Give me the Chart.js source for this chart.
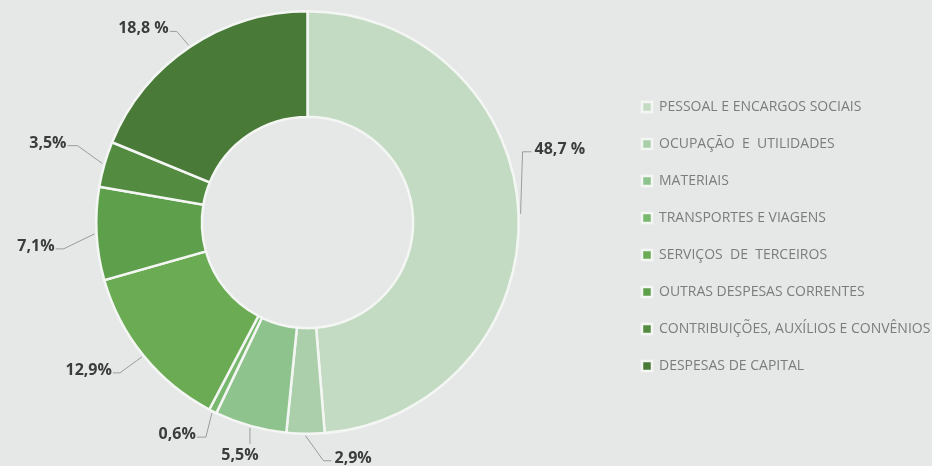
<!DOCTYPE html>
<html>
<head>
<meta charset="utf-8">
<script src="https://cdn.jsdelivr.net/npm/chart.js@4.4.0/dist/chart.umd.min.js"></script>
<style>
  html, body { margin: 0; padding: 0; background: #e6e8e7; }
  #wrap { width: 932px; height: 466px; }
</style>
</head>
<body>
<div id="wrap"><canvas id="myChart"></canvas></div>
<script>
// categories and values (percent of total)
const categories = [
    'PESSOAL E ENCARGOS SOCIAIS',
    'OCUPAÇÃO  E  UTILIDADES',
    'MATERIAIS',
    'TRANSPORTES E VIAGENS',
    'SERVIÇOS  DE  TERCEIROS',
    'OUTRAS DESPESAS CORRENTES',
    'CONTRIBUIÇÕES, AUXÍLIOS E CONVÊNIOS',
    'DESPESAS DE CAPITAL'
];
const values = [48.7, 2.9, 5.5, 0.6, 12.9, 7.1, 3.5, 18.8];
const valueLabels = ['48,7 %', '2,9%', '5,5%', '0,6%', '12,9%', '7,1%', '3,5%', '18,8 %'];

const sliceColors = [
    '#c4dbc3', '#abcfaa', '#8fc38e', '#78b86f',
    '#6aab54', '#5e9f4b', '#538b41', '#4a7a38'
];

// leader line shape per slice: bend offset from arc edge, tail length
const leaders = [
    { bend: [2, -62], tail: 9 },
    { bend: [18, 25], tail: 8 },
    { bend: [0, 16], tail: 0 },
    { bend: [-6, 24], tail: -9 },
    { bend: [-22, 16], tail: -7 },
    { bend: [-31, 15], tail: -8 },
    { bend: [-25, -18], tail: -10 },
    { bend: [-12, -14], tail: -7 }
];

const leaderPlugin = {
    id: 'leaders',
    afterDatasetsDraw(chart) {
        const ctx = chart.ctx;
        const meta = chart.getDatasetMeta(0);
        ctx.save();
        meta.data.forEach((arc, i) => {
            const mid = (arc.startAngle + arc.endAngle) / 2;
            const r = arc.outerRadius + 2;
            const x0 = arc.x + Math.cos(mid) * r;
            const y0 = arc.y + Math.sin(mid) * r;
            const lc = leaders[i];
            const x1 = x0 + lc.bend[0];
            const y1 = y0 + lc.bend[1];
            const x2 = x1 + lc.tail;
            ctx.strokeStyle = '#9a9c9a';
            ctx.lineWidth = 1;
            ctx.beginPath();
            ctx.moveTo(x0, y0);
            ctx.lineTo(x1, y1);
            ctx.lineTo(x2, y1);
            ctx.stroke();
            ctx.fillStyle = '#3b3d3c';
            ctx.font = 'bold 16px "Open Sans"';
            ctx.textBaseline = 'alphabetic';
            if (lc.tail > 0) {
                ctx.textAlign = 'left';
                ctx.fillText(valueLabels[i], x2 + 3, y1 + 2);
            } else if (lc.tail < 0) {
                ctx.textAlign = 'right';
                ctx.fillText(valueLabels[i], x2 - 1, y1 + 2);
            } else {
                ctx.textAlign = 'center';
                ctx.fillText(valueLabels[i], x1 - 10, y1 + 16);
            }
        });
        ctx.restore();
    }
};

// fix legend box width so the doughnut sits where it does in the original,
// then nudge the legend a bit right and down
const legendPlace = {
    id: 'legendPlace',
    beforeInit(chart) {
        const fit = chart.legend.fit;
        chart.legend.fit = function () {
            fit.call(this);
            this.width = 315;
        };
    },
    afterLayout(chart) {
        const lg = chart.legend;
        lg.left += 4; lg.right += 4;
        lg.top += 14; lg.bottom += 14;
    }
};

var ctx = document.getElementById('myChart').getContext('2d');
var myChart = new Chart(ctx, {
    type: 'doughnut',
    data: {
        labels: categories,
        datasets: [{
            data: values,
            backgroundColor: sliceColors,
            borderColor: '#f4f6f4',
            borderWidth: 2.5,
            borderJoinStyle: 'miter'
        }]
    },
    options: {
        responsive: true,
        maintainAspectRatio: false,
        animation: false,
        cutout: '50%',
        layout: {
            padding: { top: 10, bottom: 31, left: 0, right: 2 }
        },
        plugins: {
            legend: {
                position: 'right',
                align: 'center',
                labels: {
                    boxWidth: 10,
                    boxHeight: 10,
                    padding: 23,
                    color: '#7b7d7c',
                    font: { family: '"Open Sans"', size: 14 }
                }
            },
            tooltip: { enabled: false }
        }
    },
    plugins: [leaderPlugin, legendPlace]
});
</script>
</body>
</html>
